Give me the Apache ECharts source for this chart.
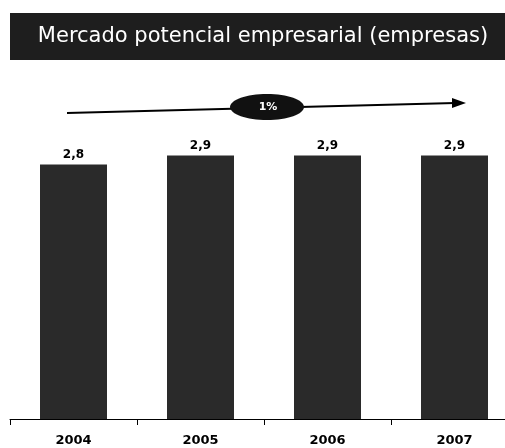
<!DOCTYPE html>
<html>
<head>
    <meta charset="utf-8">
    <title>Mercado potencial empresarial</title>
    <script src="https://cdn.jsdelivr.net/npm/echarts@6/dist/echarts.min.js"></script>
    <style>
        html, body { margin: 0; padding: 0; background: #fff; overflow: hidden; }
        #chart-container { width: 518px; height: 448px; }
    </style>
</head>
<body>
<div id="chart-container"></div>
<script>
    // data
    var years = ['2004', '2005', '2006', '2007'];
    var values = [2.8, 2.9, 2.9, 2.9];
    var growthLabel = '1%';
    var titleText = 'Mercado potencial empresarial (empresas)';

    var myChart = echarts.init(document.getElementById('chart-container'));

    var option = {
        animation: false,
        backgroundColor: '#fff',
        // grid runs a little past the right edge of the page, as in the source
        grid: { left: 10, right: 0, top: 101, bottom: 29 },
        graphic: [
            {
                type: 'rect',
                shape: { x: 10, y: 13, width: 508, height: 47 },
                style: { fill: '#1e1e1e' }
            },
            {
                type: 'text',
                x: 263, y: 37,
                style: {
                    text: titleText,
                    fill: '#fff',
                    font: '21px "DejaVu Sans"',
                    align: 'center',
                    verticalAlign: 'middle'
                }
            },
            {
                type: 'line',
                shape: { x1: 67, y1: 113, x2: 455, y2: 103 },
                style: { stroke: '#000', lineWidth: 2 }
            },
            {
                type: 'polygon',
                shape: { points: [[452, 98], [466, 103], [452, 108]] },
                style: { fill: '#000' }
            },
            {
                type: 'ellipse',
                shape: { cx: 267, cy: 107, rx: 37, ry: 13 },
                style: { fill: '#111' }
            },
            {
                type: 'text',
                x: 268, y: 107,
                style: {
                    text: growthLabel,
                    fill: '#fff',
                    font: 'bold 11px "DejaVu Sans"',
                    align: 'center',
                    verticalAlign: 'middle'
                }
            }
        ],
        xAxis: {
            type: 'category',
            data: years,
            axisLine: { lineStyle: { color: '#000', width: 1 } },
            axisTick: { show: true, length: 6, lineStyle: { color: '#000' } },
            axisLabel: {
                color: '#000',
                fontFamily: 'DejaVu Sans',
                fontWeight: 'bold',
                fontSize: 13,
                margin: 15
            }
        },
        yAxis: {
            type: 'value',
            min: 0,
            max: 3.5,
            show: false,
            splitLine: { show: false }
        },
        series: [
            {
                type: 'bar',
                data: values,
                barWidth: 67,
                itemStyle: { color: '#2a2a2a' },
                label: {
                    show: true,
                    position: 'top',
                    distance: 4,
                    color: '#000',
                    fontFamily: 'DejaVu Sans',
                    fontWeight: 'bold',
                    fontSize: 12,
                    formatter: function (p) {
                        return p.value.toFixed(1).replace('.', ',');
                    }
                }
            }
        ]
    };

    myChart.setOption(option);
</script>
</body>
</html>
